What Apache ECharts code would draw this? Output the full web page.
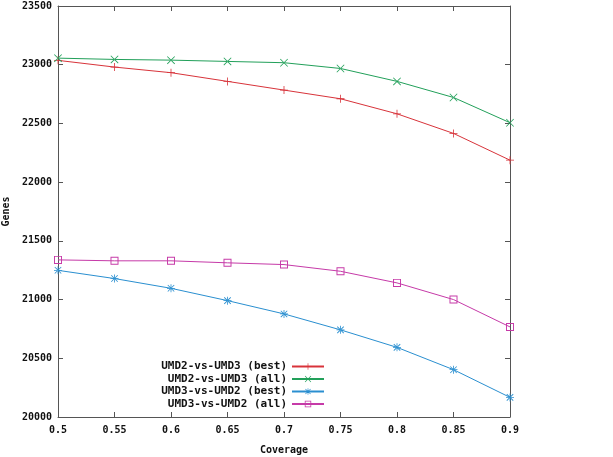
<!DOCTYPE html>
<html>
<head>
<meta charset="utf-8">
<script src="https://cdn.jsdelivr.net/npm/echarts@6/dist/echarts.min.js"></script>
<style>html,body{margin:0;padding:0;background:#fff;}#c{width:613px;height:457px;}</style>
</head>
<body>
<div id="c"></div>
<script>
const coverage = [0.5, 0.55, 0.6, 0.65, 0.7, 0.75, 0.8, 0.85, 0.9];
const xTicks = ['0.5','0.55','0.6','0.65','0.7','0.75','0.8','0.85','0.9'];
const umd2vs3Best = [23037, 22980, 22932, 22858, 22784, 22710, 22582, 22415, 22187];
const umd2vs3All  = [23056, 23045, 23039, 23028, 23017, 22968, 22858, 22721, 22506];
const umd3vs2Best = [21249, 21179, 21096, 20991, 20878, 20742, 20593, 20403, 20167];
const umd3vs2All  = [21338, 21330, 21330, 21313, 21298, 21241, 21142, 21000, 20767];
const seriesNames = ['UMD2-vs-UMD3 (best)', 'UMD2-vs-UMD3 (all)', 'UMD3-vs-UMD2 (best)', 'UMD3-vs-UMD2 (all)'];

const plusPath = 'path://M0,4.5H10V5.5H0Z M4.5,0H5.5V10H4.5Z';
const crossPath = 'path://M0,0.7L0.7,0L10,9.3L9.3,10Z M10,0.7L9.3,0L0,9.3L0.7,10Z';
const starPath = 'path://M0,4.5H10V5.5H0Z M4.5,0H5.5V10H4.5Z M0.6,1.3L1.3,0.6L9.4,8.7L8.7,9.4Z M9.4,1.3L8.7,0.6L0.6,8.7L1.3,9.4Z';
const squarePath = 'path://M0,0H10V10H0Z M1.2,1.2V8.8H8.8V1.2Z';

const font = '"DejaVu Sans Mono", monospace';
const colors = ['#d8333a', '#22a05a', '#2a8fd0', '#c63aa8'];
const symbols = [plusPath, crossPath, starPath, squarePath];
const values = [umd2vs3Best, umd2vs3All, umd3vs2Best, umd3vs2All];

const chart = echarts.init(document.getElementById('c'), null, {renderer: 'canvas'});
const axisLine = {show: true, lineStyle: {color: '#555', width: 1}};
const tick = {show: true, inside: true, length: 5, lineStyle: {color: '#555'}};
const labelStyle = {fontFamily: font, fontWeight: 'bold', fontSize: 10, color: '#111'};

chart.setOption({
  animation: false,
  backgroundColor: '#fff',
  grid: {left: 58, right: 103, top: 6, bottom: 40, containLabel: false, outerBoundsMode: 'none'},
  legend: {
    orient: 'vertical', align: 'right', right: 283, top: 356,
    itemWidth: 32, itemHeight: 8, itemGap: 1.5,
    textStyle: {fontFamily: font, fontWeight: 'bold', fontSize: 11, color: '#111'},
    data: seriesNames
  },
  xAxis: [{
    type: 'value', min: 0.5, max: 0.9, interval: 0.05,
    name: 'Coverage', nameLocation: 'middle', nameGap: 28,
    nameTextStyle: labelStyle,
    axisLine: axisLine, axisTick: tick, splitLine: {show: false},
    axisLabel: Object.assign({margin: 8, formatter: v => xTicks[Math.round((v - 0.5) / 0.05)]}, labelStyle)
  }, {
    type: 'value', position: 'top', min: 0.5, max: 0.9, interval: 0.05,
    axisLine: axisLine, axisTick: tick, axisLabel: {show: false}, splitLine: {show: false}
  }],
  yAxis: [{
    type: 'value', min: 20000, max: 23500, interval: 500,
    name: 'Genes', nameLocation: 'middle', nameGap: 45, nameRotate: 90,
    nameTextStyle: labelStyle,
    axisLine: axisLine, axisTick: tick, splitLine: {show: false},
    axisLabel: Object.assign({margin: 6, formatter: v => String(v)}, labelStyle)
  }, {
    type: 'value', position: 'right', min: 20000, max: 23500, interval: 500,
    axisLine: axisLine, axisTick: tick, axisLabel: {show: false}, splitLine: {show: false}
  }],
  series: seriesNames.map((name, i) => ({
    name: name,
    type: 'line',
    data: coverage.map((x, j) => [x, values[i][j]]),
    symbol: symbols[i],
    symbolSize: 8,
    showAllSymbol: true,
    lineStyle: {color: colors[i], width: 1},
    itemStyle: {color: colors[i]},
    emphasis: {disabled: true}
  }))
});
</script>
</body>
</html>
